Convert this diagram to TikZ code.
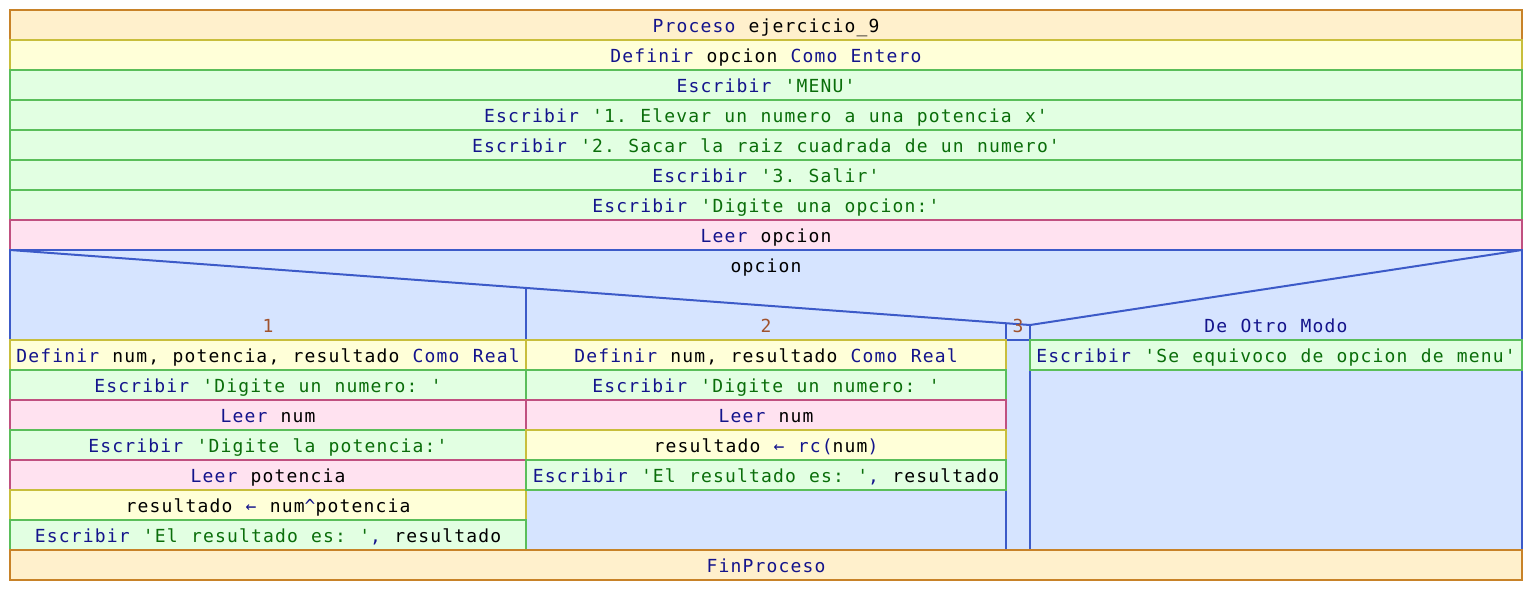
\documentclass[tikz,border=0pt]{standalone}
\usepackage{fontspec}
\setmonofont{DejaVu Sans Mono}[LetterSpace=6.45,WordSpace=1.107]
\usetikzlibrary{positioning}

\definecolor{procfondo}{RGB}{255,240,204}
\definecolor{procborde}{RGB}{200,130,40}
\definecolor{deffondo}{RGB}{255,255,216}
\definecolor{defborde}{RGB}{200,190,60}
\definecolor{escfondo}{RGB}{226,255,226}
\definecolor{escborde}{RGB}{90,190,90}
\definecolor{leefondo}{RGB}{255,226,240}
\definecolor{leeborde}{RGB}{192,80,128}
\definecolor{segfondo}{RGB}{214,228,255}
\definecolor{segborde}{RGB}{60,90,200}
\definecolor{kwazul}{RGB}{20,20,140}
\definecolor{cadverde}{RGB}{10,110,10}
\definecolor{etiqueta}{RGB}{160,82,45}

\newcommand{\pal}[1]{\textcolor{kwazul}{#1}}
\newcommand{\cad}[1]{\textcolor{cadverde}{#1}}

\begin{document}
\begin{tikzpicture}%
    [x=0.5pt, y=-0.5pt,
     letra/.style={font=\ttfamily\fontsize{9}{10}\selectfont, text height=9pt, text depth=2pt},
     celda/.style={letra, draw, line width=1pt, inner sep=0pt, outer sep=0pt,
                   minimum height=15pt, anchor=north west},
     proceso/.style={celda, fill=procfondo, draw=procborde},
     definir/.style={celda, fill=deffondo, draw=defborde},
     escribir/.style={celda, fill=escfondo, draw=escborde},
     leer/.style={celda, fill=leefondo, draw=leeborde},
     total/.style={minimum width=756pt},
     caso1/.style={minimum width=258pt},
     caso2/.style={minimum width=240pt},
     caso4/.style={minimum width=246pt},
     rama/.style={letra, text=etiqueta, inner sep=0pt}]
    \useasboundingbox (0,0) rectangle (1532,590);

    \node (proc) [proceso, total] at (10,10) {\pal{Proceso} ejercicio\_9};
    \node (defop) [definir, total, below=0pt of proc] {\pal{Definir} opcion \pal{Como Entero}};
    \node (menu) [escribir, total, below=0pt of defop] {\pal{Escribir} \cad{'MENU'}};
    \node (op1) [escribir, total, below=0pt of menu] {\pal{Escribir} \cad{'1. Elevar un numero a una potencia x'}};
    \node (op2) [escribir, total, below=0pt of op1] {\pal{Escribir} \cad{'2. Sacar la raiz cuadrada de un numero'}};
    \node (op3) [escribir, total, below=0pt of op2] {\pal{Escribir} \cad{'3. Salir'}};
    \node (pide) [escribir, total, below=0pt of op3] {\pal{Escribir} \cad{'Digite una opcion:'}};
    \node (leeop) [leer, total, below=0pt of pide] {\pal{Leer} opcion};

    % segun
    \node (segun) [celda, total, minimum height=150pt, fill=segfondo, draw=segborde,
                   below=0pt of leeop] {};
    \node (cond) [letra, inner sep=0pt] at (766,265) {opcion};
    \coordinate (ap) at (1030,325);
    \coordinate (d1) at (526,287.9);
    \coordinate (d3) at (1006,323.2);
    \draw [segborde, line width=1pt] (segun.north west) -- (ap) -- (segun.north east);
    \draw [segborde, line width=1pt] (d1) -- (526,340);
    \draw [segborde, line width=1pt] (d3) -- (1006,550);
    \draw [segborde, line width=1pt] (ap) -- (1030,550);
    \draw [segborde, line width=1pt] (1006,340) -- (1030,340);

    \node (r1) [rama] at (268,325) {1};
    \node (r2) [rama] at (766,325) {2};
    \node (r3) [rama] at (1018,325) {3};
    \node (r4) [rama, text=kwazul] at (1276,325) {De Otro Modo};

    % caso 1
    \node (a1) [definir, caso1] at (10,340) {\pal{Definir} num, potencia, resultado \pal{Como Real}};
    \node (a2) [escribir, caso1, below=0pt of a1] {\pal{Escribir} \cad{'Digite un numero: '}};
    \node (a3) [leer, caso1, below=0pt of a2] {\pal{Leer} num};
    \node (a4) [escribir, caso1, below=0pt of a3] {\pal{Escribir} \cad{'Digite la potencia:'}};
    \node (a5) [leer, caso1, below=0pt of a4] {\pal{Leer} potencia};
    \node (a6) [definir, caso1, below=0pt of a5] {resultado \pal{←} num\pal{\textasciicircum}potencia};
    \node (a7) [escribir, caso1, below=0pt of a6] {\pal{Escribir} \cad{'El resultado es: '}\pal{,} resultado};

    % caso 2
    \node (b1) [definir, caso2] at (526,340) {\pal{Definir} num, resultado \pal{Como Real}};
    \node (b2) [escribir, caso2, below=0pt of b1] {\pal{Escribir} \cad{'Digite un numero: '}};
    \node (b3) [leer, caso2, below=0pt of b2] {\pal{Leer} num};
    \node (b4) [definir, caso2, below=0pt of b3] {resultado \pal{←} \pal{rc(}num\pal{)}};
    \node (b5) [escribir, caso2, below=0pt of b4] {\pal{Escribir} \cad{'El resultado es: '}\pal{,} resultado};

    % de otro modo
    \node (c1) [escribir, caso4] at (1030,340) {\pal{Escribir} \cad{'Se equivoco de opcion de menu'}};

    \node (fin) [proceso, total, below=0pt of segun] {\pal{FinProceso}};
\end{tikzpicture}
\end{document}
